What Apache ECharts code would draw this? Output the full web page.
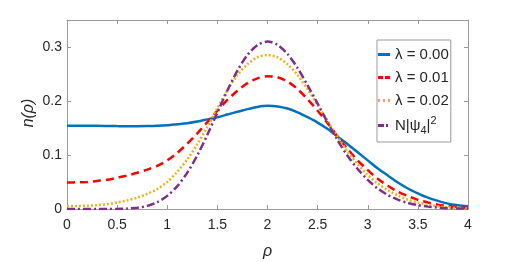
<!DOCTYPE html>
<html>
<head>
<meta charset="utf-8">
<script src="https://cdn.jsdelivr.net/npm/echarts@6/dist/echarts.min.js"></script>
<style>
html,body{margin:0;padding:0;background:#fff;}
#c{width:518px;height:262px;}
</style>
</head>
<body>
<div id="c"></div>
<script>
const rho = [0,0.1,0.2,0.3,0.4,0.5,0.6,0.7,0.8,0.9,1.0,1.1,1.2,1.3,1.4,1.5,1.6,1.7,1.8,1.9,2.0,2.1,2.2,2.3,2.4,2.5,2.6,2.7,2.8,2.9,3.0,3.1,3.2,3.3,3.4,3.5,3.6,3.7,3.8,3.9,4.0];
const nLambda000 = [0.154,0.154,0.154,0.154,0.1538,0.1535,0.1533,0.1533,0.1535,0.154,0.155,0.157,0.159,0.162,0.166,0.170,0.175,0.180,0.185,0.189,0.191,0.190,0.186,0.179,0.170,0.160,0.148,0.134,0.120,0.105,0.090,0.075,0.062,0.049,0.038,0.029,0.021,0.015,0.010,0.007,0.005];
const nLambda001 = [0.049,0.0495,0.050,0.052,0.054,0.058,0.062,0.067,0.073,0.080,0.090,0.104,0.121,0.140,0.161,0.182,0.202,0.219,0.233,0.242,0.246,0.244,0.236,0.222,0.203,0.182,0.159,0.134,0.111,0.090,0.072,0.056,0.043,0.032,0.024,0.017,0.012,0.008,0.0055,0.0035,0.002];
const nLambda002 = [0.0055,0.0057,0.006,0.007,0.009,0.012,0.016,0.021,0.028,0.037,0.050,0.069,0.092,0.120,0.152,0.187,0.220,0.248,0.268,0.281,0.285,0.281,0.268,0.248,0.222,0.193,0.163,0.133,0.106,0.083,0.063,0.047,0.035,0.025,0.017,0.012,0.008,0.005,0.003,0.002,0.001];
const nPsi4 = [0,0,0,0,0.00004,0.0002,0.0008,0.0023,0.0058,0.0127,0.0243,0.0423,0.0673,0.0995,0.1374,0.1786,0.2195,0.2563,0.2852,0.3036,0.310,0.304,0.287,0.261,0.229,0.195,0.160,0.127,0.098,0.074,0.054,0.0378,0.026,0.0173,0.0113,0.0071,0.0044,0.0026,0.0015,0.0009,0.0005];
const seriesNames = ['λ = 0.00','λ = 0.01','λ = 0.02','N|ψ4|2'];
const xTicks = {min:0,max:4,interval:0.5};
const yTicks = {min:0,max:0.35,interval:0.1};

const axisCol = '#9a9a9a';
const txtCol = '#262626';
const font = 'Liberation Sans';
const pairs = arr => rho.map((x,i)=>[x,arr[i]]);

const chart = echarts.init(document.getElementById('c'), null, {renderer:'canvas'});
const yFmt = v => (Math.abs(v*10-Math.round(v*10))<1e-6) ? String(Math.round(v*10)/10) : '';
const mk = (name,data,color,type,width) => ({
  name, type:'line', data:pairs(data), xAxisIndex:0, yAxisIndex:0,
  symbol:'none', smooth:0.3,
  lineStyle:{color, width, type}, itemStyle:{color}
});
const frameAxis = {
  axisLine:{show:true,onZero:false,lineStyle:{color:axisCol,width:1}},
  axisTick:{show:true,inside:true,length:4,lineStyle:{color:axisCol}},
  splitLine:{show:false}
};
chart.setOption({
  animation:false,
  backgroundColor:'#fff',
  grid:{left:67,right:50,top:20,bottom:53,containLabel:false,outerBoundsMode:'none'},
  graphic:[{type:'text',x:29,y:113,rotation:Math.PI/2,silent:true,
    style:{text:'n(ρ)',fill:txtCol,font:'italic 16px "Liberation Sans"',align:'center',verticalAlign:'middle'}}],
  xAxis:[
    Object.assign({type:'value',position:'bottom',min:xTicks.min,max:xTicks.max,interval:xTicks.interval,
     axisLabel:{color:txtCol,fontFamily:font,fontSize:14,margin:9},
     name:'ρ',nameLocation:'middle',nameGap:35,
     nameTextStyle:{color:txtCol,fontFamily:font,fontSize:16,fontStyle:'italic'}}, frameAxis),
    Object.assign({type:'value',position:'top',min:xTicks.min,max:xTicks.max,interval:xTicks.interval,
     axisLabel:{show:false}}, frameAxis)
  ],
  yAxis:[
    Object.assign({type:'value',position:'left',min:yTicks.min,max:yTicks.max,interval:yTicks.interval,
     axisLabel:{color:txtCol,fontFamily:font,fontSize:14,margin:5,formatter:yFmt}}, frameAxis),
    Object.assign({type:'value',position:'right',min:yTicks.min,max:yTicks.max,interval:yTicks.interval,
     axisLabel:{show:false}}, frameAxis)
  ],
  legend:{
    orient:'vertical',left:377,top:40,
    backgroundColor:'#fff',borderColor:axisCol,borderWidth:1,borderRadius:0,
    padding:[6,2,6,1],itemGap:6,itemWidth:12,itemHeight:3,
    data:[
      {name:seriesNames[0],icon:'rect'},
      {name:seriesNames[1],icon:'path://M0,0h5v3h-5zM7,0h5v3h-5z'},
      {name:seriesNames[2],icon:'path://M0,0h2v3h-2zM5,0h2v3h-2zM10,0h2v3h-2z'},
      {name:seriesNames[3],icon:'path://M0,0h6v3h-6zM8,0h2v3h-2zM12,0h0.01v3h-0.01z'}
    ],
    textStyle:{color:txtCol,fontFamily:font,fontSize:15,lineHeight:17,
      rich:{sub:{fontSize:11,fontFamily:font,color:txtCol,padding:[10,0,0,0]},
            sup:{fontSize:11,fontFamily:font,color:txtCol,padding:[0,0,10,0]}}},
    formatter: n => n==='N|ψ4|2' ? 'N|ψ{sub|4}|{sup|2}' : n
  },
  series:[
    mk(seriesNames[0],nLambda000,'#0072BD','solid',2.5),
    mk(seriesNames[1],nLambda001,'#FF0000',[8,5],2.5),
    mk(seriesNames[2],nLambda002,'#EDB120',[2,2],2.5),
    mk(seriesNames[3],nPsi4,'#7E2F8E',[8,3,2,3],2.5)
  ]
});
</script>
</body>
</html>
